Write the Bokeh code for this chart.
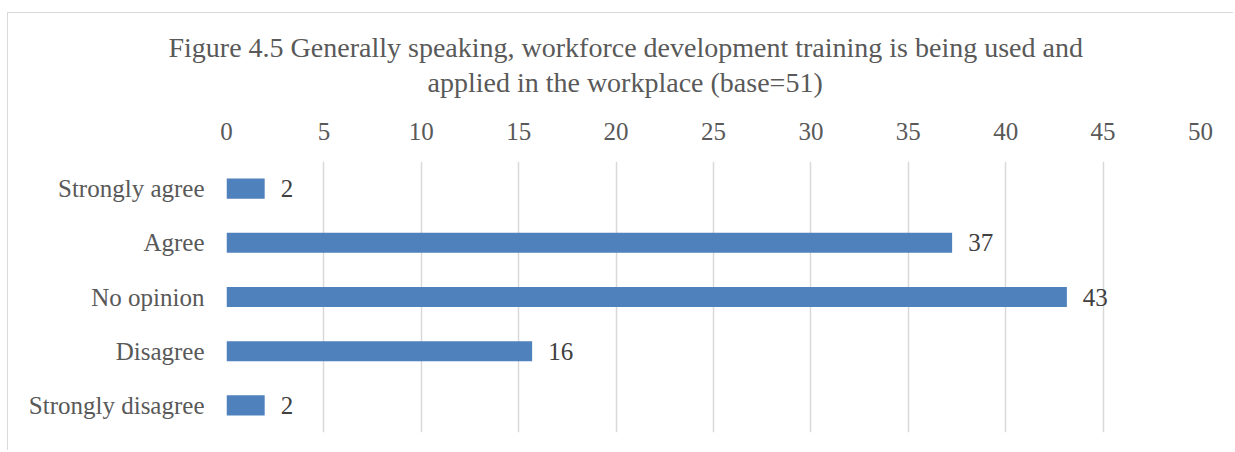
from bokeh.plotting import figure
from bokeh.models import ColumnDataSource, LabelSet, FixedTicker, FactorRange, Title
from bokeh.embed import file_html
from bokeh.resources import INLINE

categories = ["Strongly agree", "Agree", "No opinion", "Disagree", "Strongly disagree"]
values = [1.96, 37.25, 43.14, 15.69, 1.96]
tick_values = [0, 5, 10, 15, 20, 25, 30, 35, 40, 45, 50]
title_line1 = "Figure 4.5 Generally speaking, workforce development training is being used and"
title_line2 = "applied in the workplace (base=51)"

FONT = "Liberation Serif"
src = ColumnDataSource(dict(cat=categories, val=values, lbl=[str(round(v)) for v in values]))

p = figure(
    width=1226, height=438,
    y_range=FactorRange(factors=list(reversed(categories))),
    x_range=(0, 50),
    x_axis_location="above",
    output_backend="svg", toolbar_location=None,
    min_border_left=218, min_border_right=34, min_border_top=148, min_border_bottom=19,
)
p.styles = {"margin-top": "12px", "margin-left": "7px",
            "border-top": "1px solid #d9d9d9", "border-left": "1px solid #d9d9d9"}

def style_title(t, offset, standoff):
    t.align = "left"
    t.offset = offset
    t.text_font = FONT
    t.text_font_size = "28px"
    t.text_font_style = "normal"
    t.text_color = "#595959"
    t.standoff = standoff

p.title.text = title_line1
style_title(p.title, -58, 0)
t2 = Title(text=title_line2)
style_title(t2, 201, 4)
p.add_layout(t2, "above")

p.hbar(y="cat", right="val", left=0, height=0.37, source=src, fill_color="#4f81bd", line_color=None)

labels = LabelSet(x="val", y="cat", text="lbl", source=src, x_offset=16,
                  text_baseline="middle", text_align="left",
                  text_font=FONT, text_font_size="25px", text_color="#404040")
p.add_layout(labels)

p.xaxis.ticker = FixedTicker(ticks=tick_values)
for ax in [p.xaxis[0], p.yaxis[0]]:
    ax.axis_line_color = None
    ax.major_tick_line_color = None
    ax.minor_tick_line_color = None
    ax.major_label_text_font = FONT
    ax.major_label_text_font_size = "25px"
    ax.major_label_text_color = "#595959"
p.xaxis.major_label_standoff = 16
p.yaxis.major_label_standoff = 16
# invisible spacer label to keep the title clear of the tick labels
p.xaxis.axis_label = " "
p.xaxis.axis_label_text_font_size = "10px"
p.xaxis.axis_label_standoff = 6

p.xgrid.ticker = FixedTicker(ticks=tick_values)
p.xgrid.grid_line_color = "#d9d9d9"
p.xgrid.grid_line_width = 1.5
p.ygrid.grid_line_color = None
p.outline_line_color = None
p.background_fill_color = "white"
p.border_fill_color = "white"

open("out.html", "w").write(file_html(p, INLINE))
